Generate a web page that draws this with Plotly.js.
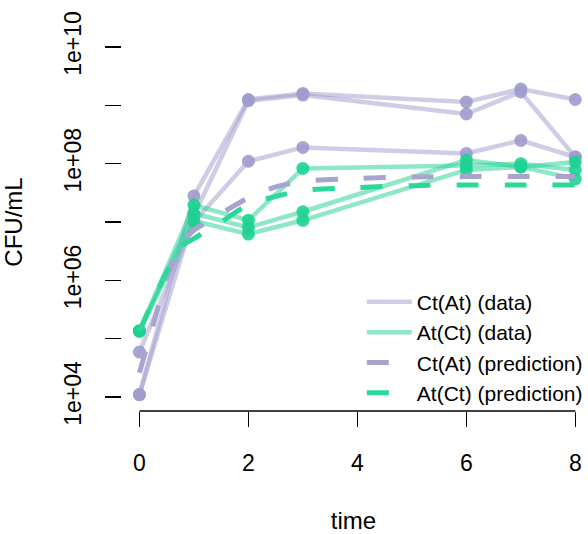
<!DOCTYPE html>
<html>
<head>
<meta charset="utf-8">
<script src="https://cdn.plot.ly/plotly-3.0.1.min.js"></script>
<style>
  html, body { margin: 0; padding: 0; background: #ffffff; }
  #chart { width: 588px; height: 534px; }
</style>
</head>
<body>
<div id="chart"></div>
<script>
// ---- data ----
const time = [0, 1, 2, 3, 6, 7, 8];

// Ct(At) observed replicates, CFU/mL
const ctAtRep1 = [1.1e4, 2.8e7, 1.26e9, 1.6e9, 1.14e9, 1.9e9, 1.26e9];
const ctAtRep2 = [1.1e4, 1.3e7, 1.2e9, 1.5e9, 7.1e8, 1.7e9, 1.3e8];
const ctAtRep3 = [5.9e4, 1.0e7, 1.1e8, 1.9e8, 1.5e8, 2.5e8, 1.3e8];

// At(Ct) observed replicates, CFU/mL
const atCtRep1 = [1.35e5, 1.95e7, 1.07e7, 8.3e7, 9.3e7, 1.0e8, 7.8e7];
const atCtRep2 = [1.35e5, 1.4e7, 8.1e6, 1.5e7, 1.15e8, 8.8e7, 1.07e8];
const atCtRep3 = [1.35e5, 1.05e7, 6.2e6, 1.07e7, 7.8e7, 8.8e7, 5.5e7];

// model predictions
const predTime = [0, 0.25, 0.5, 0.75, 1, 1.5, 2, 2.5, 3, 4, 5, 6, 7, 8];
const ctAtPred = [2.6e4, 1.7e5, 1.1e6, 4.0e6, 7.2e6, 1.4e7, 2.6e7, 4.0e7, 5.0e7, 5.6e7, 5.9e7, 6.0e7, 6.0e7, 6.0e7];
const atCtPred = [1.35e5, 4.5e5, 1.4e6, 3.7e6, 5.2e6, 1.0e7, 2.0e7, 2.75e7, 3.5e7, 3.9e7, 4.2e7, 4.3e7, 4.3e7, 4.3e7];

const xTickVals = [0, 2, 4, 6, 8];
const yTickVals = [1e4, 1e5, 1e6, 1e7, 1e8, 1e9, 1e10];
const yTickText = ["1e+04", "", "1e+06", "", "1e+08", "", "1e+10"];

const seriesNames = ["Ct(At) (data)", "At(Ct) (data)", "Ct(At) (prediction)", "At(Ct) (prediction)"];

// ---- styles ----
const purpleLine = "rgba(160,155,205,0.5)";
const purpleMark = "rgba(160,155,205,0.9)";
const purpleDash = "rgb(168,164,208)";
const greenLine = "rgba(30,210,145,0.5)";
const greenMark = "rgba(30,210,145,0.9)";
const greenDash = "rgb(44,215,154)";
const FONT = "Liberation Sans, Arial, Helvetica, sans-serif";

const traces = [];
function addGroup(reps, name, lineColor, markColor, rank) {
  reps.forEach((ys, i) => {
    traces.push({
      x: time, y: ys, type: "scatter", mode: "lines",
      name: name, legendgroup: name, showlegend: i === 0, legendrank: rank,
      line: { color: lineColor, width: 4.5 },
      hoverinfo: "skip"
    });
  });
  reps.forEach((ys) => {
    traces.push({
      x: time, y: ys, type: "scatter", mode: "markers",
      name: name, legendgroup: name, showlegend: false,
      marker: { color: markColor, size: 13, line: { width: 0 } }
    });
  });
}
addGroup([ctAtRep1, ctAtRep2, ctAtRep3], seriesNames[0], purpleLine, purpleMark, 1);
addGroup([atCtRep1, atCtRep2, atCtRep3], seriesNames[1], greenLine, greenMark, 2);

traces.push({
  x: predTime, y: ctAtPred, type: "scatter", mode: "lines", line: { shape: "spline", smoothing: 0.6,
  color: purpleDash, width: 5, dash: "22px,26px" }, name: seriesNames[2], legendrank: 3
});
traces.push({
  x: predTime, y: atCtPred, type: "scatter", mode: "lines", line: { shape: "spline", smoothing: 0.6,
  color: greenDash, width: 5, dash: "22px,26px" }, name: seriesNames[3], legendrank: 4
});

const layout = {
  width: 588, height: 534,
  margin: { l: 122, r: 0, t: 33, b: 123, pad: 0 },
  paper_bgcolor: "#ffffff", plot_bgcolor: "#ffffff",
  font: { family: FONT, size: 22, color: "#000000" },
  showlegend: true,
  legend: {
    x: 0.518, y: 0.342, xanchor: "left", yanchor: "top",
    bgcolor: "rgba(0,0,0,0)", borderwidth: 0,
    font: { family: FONT, size: 21, color: "#000000" },
    itemwidth: 45, tracegroupgap: 0
  },
  xaxis: {
    range: [-0.32, 8.178], tickvals: xTickVals, ticktext: xTickVals.map(String),
    showgrid: false, zeroline: false, showline: false,
    ticks: "outside", ticklen: 15, tickwidth: 1.5, tickcolor: "#000000",
    ticklabelstandoff: 16,
    tickfont: { family: FONT, size: 23, color: "#000000" },
    title: { text: "time", font: { family: FONT, size: 24, color: "#000000" }, standoff: 40 },
    automargin: false
  },
  yaxis: {
    type: "log", range: [3.76, 10.24], tickvals: yTickVals, ticktext: yTickText,
    tickangle: -90,
    showgrid: false, zeroline: false, showline: false,
    ticks: "outside", ticklen: 16, tickwidth: 1.5, tickcolor: "#000000",
    ticklabelstandoff: 15,
    tickfont: { family: FONT, size: 23, color: "#000000" },
    title: { text: "CFU/mL", font: { family: FONT, size: 24, color: "#000000" }, standoff: 44 },
    automargin: false
  },
  shapes: [
    { type: "line", xref: "x", yref: "paper", x0: xTickVals[0], x1: xTickVals[xTickVals.length - 1], y0: 0, y1: 0,
      line: { color: "#000000", width: 1.5 } },
    { type: "line", xref: "paper", yref: "y", x0: 0, x1: 0, y0: Math.log10(yTickVals[0]), y1: Math.log10(yTickVals[yTickVals.length - 1]),
      line: { color: "#000000", width: 1.5 } }
  ]
};

Plotly.newPlot("chart", traces, layout, { staticPlot: true, displayModeBar: false });
</script>
</body>
</html>
